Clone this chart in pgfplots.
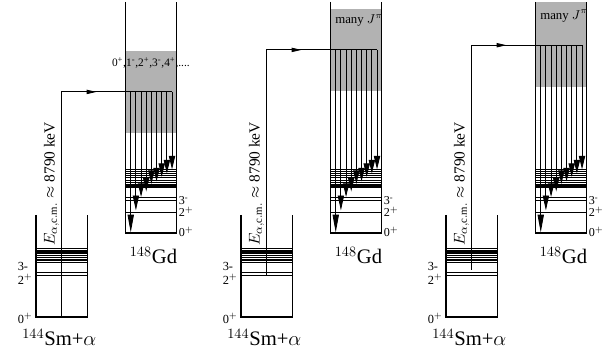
\documentclass[border=0pt]{standalone}
\usepackage{fontspec}
\setmainfont{Liberation Serif}
\usepackage{pgfplots}
\pgfplotsset{compat=1.18}
\usetikzlibrary{arrows.meta}

% horizontal level: x1, x2, y, width
\newcommand{\lev}[4]{\addplot[black, line width=#4pt] coordinates {(#1,#3) (#2,#3)};}
% transition arrow: x, ystart, ytip, head length
\newcommand{\tr}[4]{\addplot[black, line width=0.6pt, -{Triangle[length=#4pt,width=4.4pt]}] coordinates {(#1,#2) (#1,#3)};}

\pgfplotsset{panel/.style={anchor=south west, x=0.0247117cm, y=0.0247117cm, y dir=reverse,
  xmin=0, ymin=0, ymax=353, hide axis, clip=false, scale only axis}}

\newcommand{\common}[2]{% #1 arrowY, #2 line start
  % Sm box
  \addplot[black, line width=0.9pt] coordinates {(36,215) (36,317) (87.3,317) (87.3,215)};
  \lev{36}{87.3}{248.7}{1.1}\lev{36}{87.3}{250.8}{1.1}\lev{36}{87.3}{253}{1.1}
  \lev{36}{87.3}{255.4}{1.1}\lev{36}{87.3}{257.6}{1.1}\lev{36}{87.3}{260}{1.1}
  \lev{36}{87.3}{262.4}{1.1}\lev{36}{87.3}{272.7}{0.6}\lev{36}{87.3}{275.3}{0.6}
  % Gd box
  \addplot[black, line width=0.9pt] coordinates {(125.7,2) (125.7,233) (176.7,233) (176.7,2)};
  \lev{125.7}{176.7}{169.5}{0.6}\lev{125.7}{176.7}{171.5}{0.6}\lev{125.7}{176.7}{173.5}{0.6}
  \lev{125.7}{176.7}{175.5}{0.6}\lev{125.7}{176.7}{177.7}{0.6}\lev{125.7}{176.7}{180}{0.6}
  \lev{125.7}{176.7}{182.7}{0.6}\lev{125.7}{176.7}{185}{1.1}\lev{125.7}{176.7}{186.8}{1.1}
  \lev{125.7}{176.7}{197.3}{0.6}\lev{125.7}{176.7}{200}{0.6}\lev{125.7}{176.7}{212.7}{0.6}
  % entrance
  \addplot[black, line width=0.7pt] coordinates {(61.7,#2) (61.7,#1) (172,#1)};
  \addplot[black, line width=0.7pt, -{Triangle[length=7pt,width=3pt]}] coordinates {(61.7,#1) (96.5,#1)};
  % gamma transitions
  \tr{130.7}{#1}{232.5}{12.5}\tr{135.86}{#1}{210.5}{10.5}\tr{141.02}{#1}{197}{9.5}
  \tr{146.18}{#1}{191.5}{9.5}\tr{151.34}{#1}{184}{9.5}\tr{156.5}{#1}{181.5}{9.5}
  \tr{161.66}{#1}{177}{9.5}\tr{166.82}{#1}{173.5}{9.5}\tr{171.98}{#1}{169.5}{9.5}
  % labels
  \node[anchor=base west, inner sep=0pt, font=\fontsize{8.7}{10}\selectfont] at (axis cs:17.5,271) {3-};
  \node[anchor=base west, inner sep=0pt, font=\fontsize{8.7}{10}\selectfont] at (axis cs:17.5,285) {2$^+$};
  \node[anchor=base west, inner sep=0pt, font=\fontsize{8.7}{10}\selectfont] at (axis cs:17.5,324) {0$^+$};
  \node[anchor=base west, inner sep=0pt, font=\fontsize{14.5}{16}\selectfont] at (axis cs:22,346) {$^{144}$Sm+$\alpha$};
  \node[anchor=base west, inner sep=0pt, font=\fontsize{14.5}{16}\selectfont] at (axis cs:129.5,264) {$^{148}$Gd};
  \node[anchor=base west, inner sep=0pt, font=\fontsize{8.5}{10}\selectfont] at (axis cs:178.5,204.5) {3\textsuperscript{-}};
  \node[anchor=base west, inner sep=0pt, font=\fontsize{8.5}{10}\selectfont] at (axis cs:178.5,217) {2$^+$};
  \node[anchor=base west, inner sep=0pt, font=\fontsize{8.5}{10}\selectfont] at (axis cs:178.5,236.5) {0$^+$};
  \node[rotate=90, inner sep=0pt, font=\fontsize{10.8}{12}\selectfont] at (axis cs:51.5,184) {$E_{\alpha,\mathrm{c.m.}}\approx$ 8790 keV};
}

\begin{document}
\begin{tikzpicture}
% panel 1
\begin{axis}[panel, at={(0cm,0cm)}, xmax=205]
  \addplot[draw=none, fill=black!30] coordinates {(125.7,51) (176.7,51) (176.7,132.7) (125.7,132.7)} -- cycle;
  \common{92}{317}
  \node[anchor=base west, inner sep=0pt, font=\fontsize{8}{9}\selectfont] at (axis cs:111.7,66.5)
    {0\textsuperscript{+},1\textsuperscript{-},2\textsuperscript{+},3\textsuperscript{-},4\textsuperscript{+},....};
\end{axis}
% panel 2
\begin{axis}[panel, at={(5.0659cm,0cm)}, xmax=205]
  \addplot[draw=none, fill=black!30] coordinates {(125.7,9.3) (176.7,9.3) (176.7,90.7) (125.7,90.7)} -- cycle;
  \common{50}{274.7}
  \node[anchor=base west, inner sep=0pt, font=\fontsize{9}{10}\selectfont] at (axis cs:130,24) {many $J^\pi$};
\end{axis}
% panel 3
\begin{axis}[panel, at={(10.1318cm,0cm)}, xmax=197]
  \addplot[draw=none, fill=black!30] coordinates {(125.7,2) (176.7,2) (176.7,87) (125.7,87)} -- cycle;
  \common{45.3}{270}
  \node[anchor=base west, inner sep=0pt, font=\fontsize{9}{10}\selectfont] at (axis cs:130,19.5) {many $J^\pi$};
\end{axis}
\pgfresetboundingbox
\path[use as bounding box] (0,0) rectangle (15cm,8.7232cm);
\end{tikzpicture}
\end{document}
